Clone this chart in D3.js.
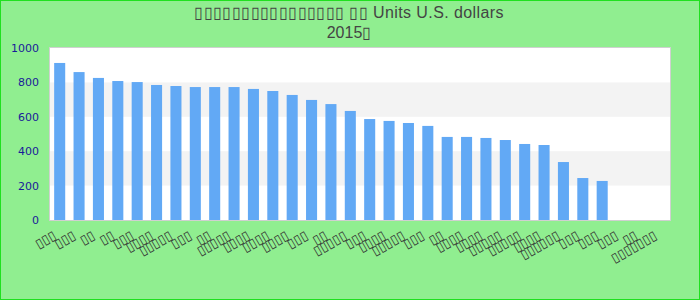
<!DOCTYPE html>
<html>
<head>
<meta charset="utf-8">
<script src="https://cdn.jsdelivr.net/npm/d3@7"></script>
<style>
  body { margin: 0; padding: 0; }
  svg { display: block; }
</style>
</head>
<body>
<svg id="chart" width="700" height="300"></svg>
<script>
// title lines (glyphs missing in the reference, kept as boxes)
var titleLine1 = "▯▯▯▯▯▯▯▯▯▯▯▯▯▯▯▯ ▯▯ Units U.S. dollars";
var titleLine2 = "2015▯";

// categories (names shown as empty boxes in the reference)
var labelLengths = [3,3,2,2,3,4,5,3,2,5,4,4,4,3,2,5,3,4,5,3,2,4,4,5,5,4,6,3,3,3,2,7];
var categories = labelLengths.map(function(n, i){ return "▯".repeat(n) + "\u200b".repeat(i); });

var values = [913, 860, 826, 808, 802, 785, 779, 773, 773, 773, 762, 750, 727, 698, 674,
              634, 587, 576, 564, 547, 483, 483, 477, 465, 442, 436, 337, 244, 227, null, null, null];

var yTicks = [0, 200, 400, 600, 800, 1000];

var largeur = 700, hauteur = 300;
var marge = {haut: 48, droite: 30, bas: 80, gauche: 50};

var svg = d3.select("#chart");

// fond + bordure
svg.append("rect")
    .attr("x", 0.5).attr("y", 0.5)
    .attr("width", largeur - 1).attr("height", hauteur - 1)
    .attr("fill", "#90ee90")
    .attr("stroke", "#1fe01f")
    .attr("stroke-width", 1);

var x = d3.scaleBand()
    .domain(categories)
    .range([marge.gauche, largeur - marge.droite])
    .paddingInner(0.43)
    .paddingOuter(0.215);

var y = d3.scaleLinear()
    .domain([0, 1000])
    .range([hauteur - marge.bas, marge.haut]);

// zone du graphe
svg.append("rect")
    .attr("x", marge.gauche).attr("y", marge.haut)
    .attr("width", largeur - marge.droite - marge.gauche)
    .attr("height", hauteur - marge.bas - marge.haut)
    .attr("fill", "white");

// bandes alternées
for (var i = 0; i < yTicks.length - 1; i++) {
    if (i % 2 == 1) {
        svg.append("rect")
            .attr("x", marge.gauche)
            .attr("y", y(yTicks[i + 1]))
            .attr("width", largeur - marge.droite - marge.gauche)
            .attr("height", y(yTicks[i]) - y(yTicks[i + 1]))
            .attr("fill", "#f3f3f3");
    }
}

// barres
svg.append("g").selectAll("rect")
    .data(categories.map(function(c, i){ return {c: c, v: values[i]}; }).filter(function(d){ return d.v != null; }))
    .enter().append("rect")
    .attr("x", function(d){ return x(d.c); })
    .attr("y", function(d){ return y(d.v); })
    .attr("width", x.bandwidth())
    .attr("height", function(d){ return y(0) - y(d.v); })
    .attr("fill", "#62a9f5");

// cadre
svg.append("rect")
    .attr("x", marge.gauche - 0.5).attr("y", marge.haut - 0.5)
    .attr("width", largeur - marge.droite - marge.gauche + 1)
    .attr("height", hauteur - marge.bas - marge.haut + 1)
    .attr("fill", "none")
    .attr("stroke", "#d0d0d0")
    .attr("stroke-width", 1);

// axe y
var axeY = d3.axisLeft(y).tickValues(yTicks).tickFormat(d3.format("d")).tickSize(0).tickPadding(11);
var gY = svg.append("g")
    .attr("transform", "translate(" + marge.gauche + ",0)")
    .call(axeY);
gY.select(".domain").remove();
gY.selectAll("text")
    .attr("fill", "#1a1a99")
    .style("font-family", "DejaVu Sans")
    .style("font-size", "11px");

// axe x
var axeX = d3.axisBottom(x).tickSize(0).tickPadding(0);
var gX = svg.append("g")
    .attr("transform", "translate(0," + (hauteur - marge.bas) + ")")
    .call(axeX);
gX.select(".domain").remove();
gX.selectAll("text")
    .attr("fill", "#333")
    .style("font-family", "DejaVu Sans")
    .style("font-size", "13px")
    .attr("text-anchor", "end")
    .attr("dy", "0.35em")
    .attr("transform", "translate(-5,14) rotate(-30)");

// titre
svg.append("text")
    .attr("x", 349).attr("y", 18)
    .attr("text-anchor", "middle")
    .attr("fill", "#444")
    .style("font-family", "Liberation Sans")
    .style("font-size", "16px")
    .style("letter-spacing", "0.4px")
    .text(titleLine1);
svg.append("text")
    .attr("x", 349).attr("y", 38)
    .attr("text-anchor", "middle")
    .attr("fill", "#444")
    .style("font-family", "Liberation Sans")
    .style("font-size", "16px")
    .text(titleLine2);
</script>
</body>
</html>
